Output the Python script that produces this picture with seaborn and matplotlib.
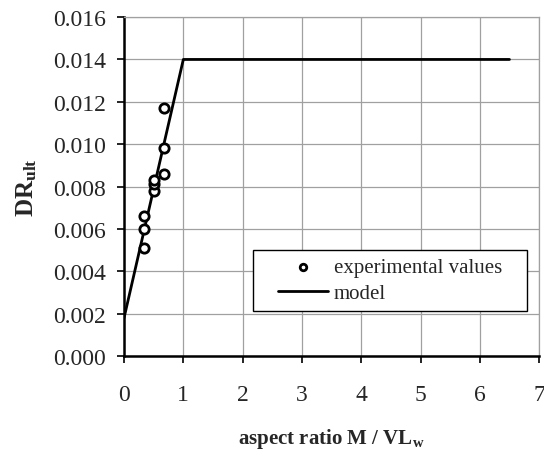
import numpy as np
import pandas as pd
import seaborn as sns
import matplotlib.pyplot as plt
from matplotlib.patches import Rectangle

# experimental points
exp_x = [0.34, 0.34, 0.34, 0.5, 0.5, 0.5, 0.67, 0.67, 0.67]
exp_y = [0.0051, 0.0060, 0.0066, 0.0078, 0.0081, 0.0083, 0.0086, 0.0098, 0.0117]

# model (bilinear)
model_x = [0.0, 1.0, 6.5]
model_y = [0.0018, 0.014, 0.014]

x_ticks = [0, 1, 2, 3, 4, 5, 6, 7]
y_ticks = [0.000, 0.002, 0.004, 0.006, 0.008, 0.010, 0.012, 0.014, 0.016]

sns.set_style('white')
plt.rcParams['font.family'] = ['Liberation Serif', 'DejaVu Serif']
plt.rcParams['mathtext.fontset'] = 'custom'
plt.rcParams['mathtext.rm'] = 'Liberation Serif'
plt.rcParams['mathtext.bf'] = 'Liberation Serif:bold'
plt.rcParams['mathtext.it'] = 'Liberation Serif:italic'

fig = plt.figure(figsize=(5.44, 4.52), dpi=100)
ax = fig.add_axes([0.228, 0.210, 0.763, 0.750])

exp = pd.DataFrame({'x': exp_x, 'y': exp_y})
mod = pd.DataFrame({'x': model_x, 'y': model_y})

sns.lineplot(data=mod, x='x', y='y', ax=ax, color='black', lw=2,
             label='model', zorder=3)
sns.scatterplot(data=exp, x='x', y='y', ax=ax, marker='o', s=45,
                facecolor='white', edgecolor='black', linewidth=2,
                label='experimental values', zorder=4)

ax.set_xlim(0, 7)
ax.set_ylim(0, 0.016)
ax.set_xticks(x_ticks)
ax.set_yticks(y_ticks)
ax.set_yticklabels([f'{v:.3f}' for v in y_ticks])
ax.grid(True, color='#a0a0a0', lw=0.9)
ax.set_axisbelow(True)

for s in ['top', 'right']:
    ax.spines[s].set_color('#a0a0a0')
    ax.spines[s].set_linewidth(0.9)
for s in ['left', 'bottom']:
    ax.spines[s].set_color('black')
    ax.spines[s].set_linewidth(1.8)

ax.tick_params(axis='both', labelsize=17, direction='out', length=5,
               width=1.2, color='black', left=True, bottom=True)
ax.tick_params(axis='x', pad=15)
ax.tick_params(axis='y', pad=8)

ax.set_xlabel(r'aspect ratio M / VL$_\mathbf{w}$', fontsize=15,
              fontweight='bold', labelpad=15)
ax.set_ylabel(r'DR$_\mathbf{ult}$', fontsize=18, fontweight='bold', labelpad=10)

# legend frame, wider than the default legend padding
ax.add_patch(Rectangle((0.311, 0.133), 0.660, 0.180, transform=ax.transAxes,
                       facecolor='white', edgecolor='black', lw=1.0, zorder=5))

handles, labels = ax.get_legend_handles_labels()
order = [labels.index('experimental values'), labels.index('model')]
leg = ax.legend([handles[i] for i in order], [labels[i] for i in order],
                loc='center', bbox_to_anchor=(0.641, 0.223),
                borderaxespad=0, fontsize=15, frameon=False,
                borderpad=0.4, labelspacing=0.3, handlelength=2.4,
                handletextpad=0.3, markerscale=0.7)
leg.set_zorder(6)

fig.savefig('out.png', dpi=100)
